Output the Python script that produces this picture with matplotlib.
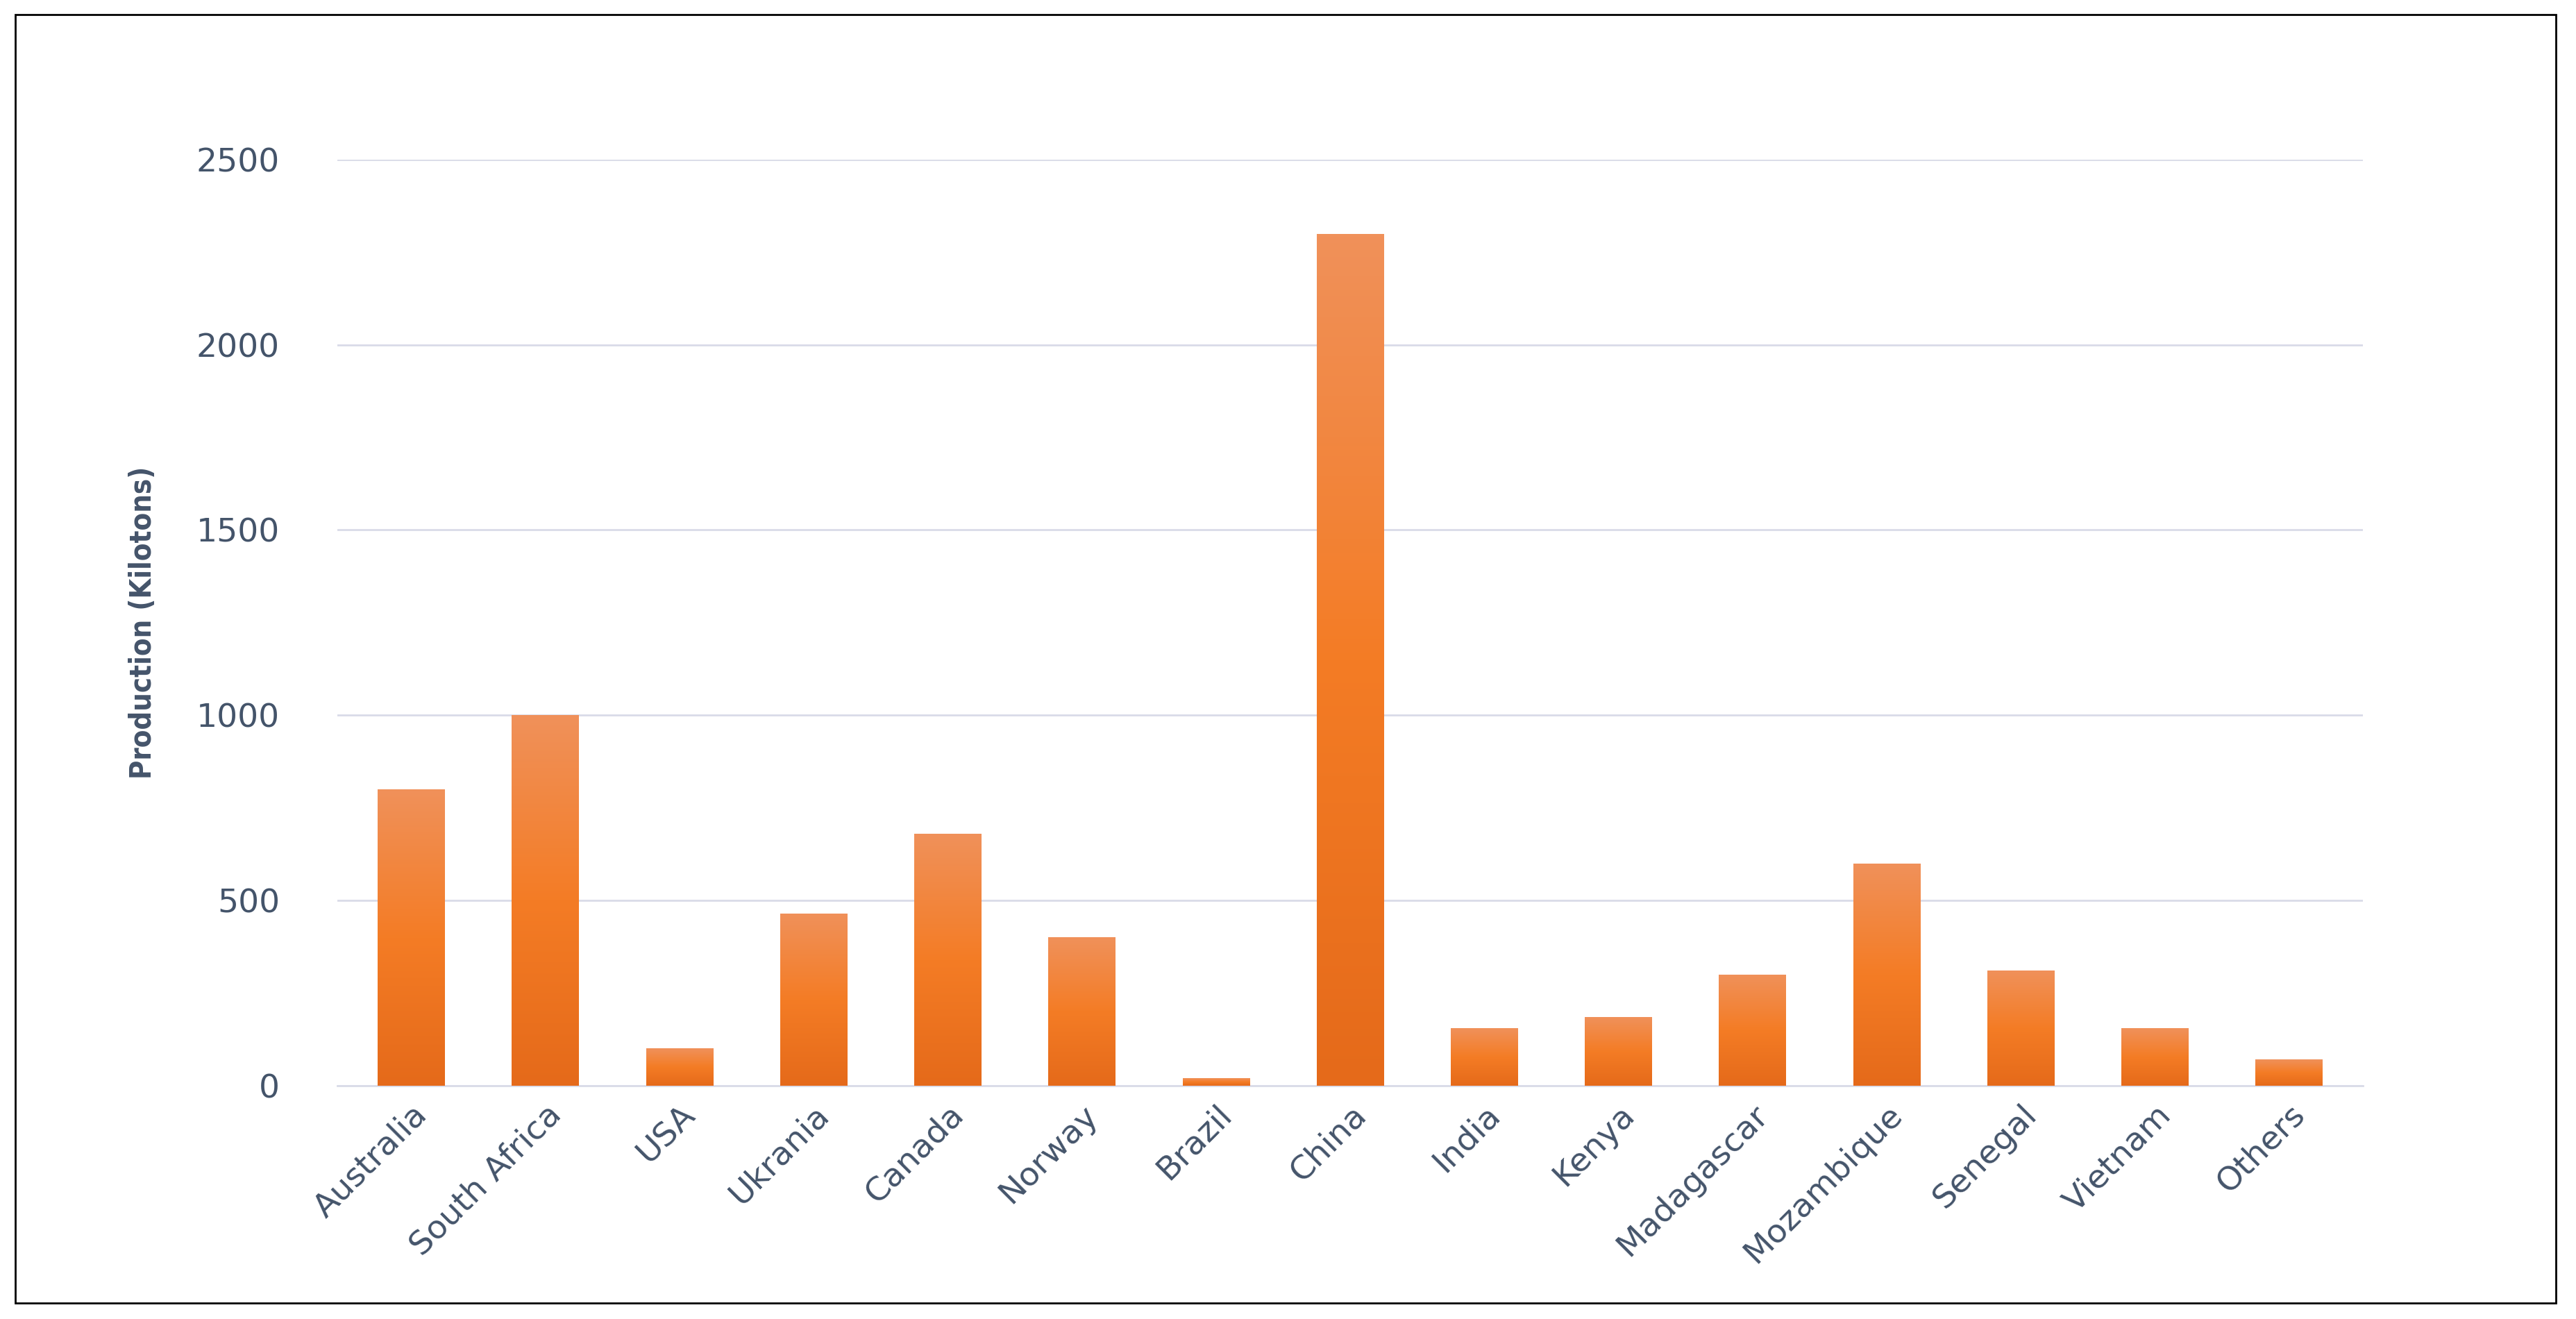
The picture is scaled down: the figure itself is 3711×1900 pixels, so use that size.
import numpy as np
import matplotlib.pyplot as plt
from matplotlib.colors import LinearSegmentedColormap
from matplotlib.patches import Rectangle

countries = ["Australia", "South Africa", "USA", "Ukrania", "Canada", "Norway", "Brazil",
             "China", "India", "Kenya", "Madagascar", "Mozambique", "Senegal", "Vietnam", "Others"]
production = [800, 1000, 100, 465, 680, 400, 20, 2300, 155, 185, 300, 600, 310, 155, 70]

txt = '#44546a'
fig = plt.figure(figsize=(37.12, 19), dpi=100)
fig.patches.append(Rectangle((0.006, 0.012), 0.986, 0.977, transform=fig.transFigure,
                             fill=False, ec='black', lw=2))
ax = fig.add_axes([0.131, 0.177, 0.786, 0.702])

cmap = LinearSegmentedColormap.from_list('g', ['#e56a1a', '#f47c25', '#f0915a'])
grad = np.linspace(0, 1, 256).reshape(-1, 1)
x = np.arange(len(countries))
bars = ax.bar(x, production, width=0.5, color='none', zorder=3)
for b in bars:
    x0, w, h = b.get_x(), b.get_width(), b.get_height()
    im = ax.imshow(grad, cmap=cmap, origin='lower', aspect='auto',
                   extent=[x0, x0 + w, 0, h], zorder=3)
    im.set_clip_path(b)

ax.set_xlim(-0.55, len(countries) - 0.45)
ax.set_ylim(0, 2500)
ax.set_yticks(range(0, 2501, 500))
ax.yaxis.grid(True, color='#d9dbe8', lw=2, zorder=0)
ax.set_axisbelow(True)
for s in ['top', 'right', 'left']:
    ax.spines[s].set_visible(False)
ax.spines['bottom'].set_color('#d9dbe8')
ax.spines['bottom'].set_linewidth(2)
ax.tick_params(length=0, labelsize=34, labelcolor=txt, pad=14)
ax.tick_params(axis='y', pad=60)
ax.set_xticks(x)
ax.set_xticklabels(countries, rotation=45, ha='right', rotation_mode='anchor')
ax.set_ylabel("Production (Kilotons)", fontsize=30, fontweight='bold', color=txt,
              fontstretch='condensed', labelpad=40)

fig.savefig('out.png', dpi=100)
